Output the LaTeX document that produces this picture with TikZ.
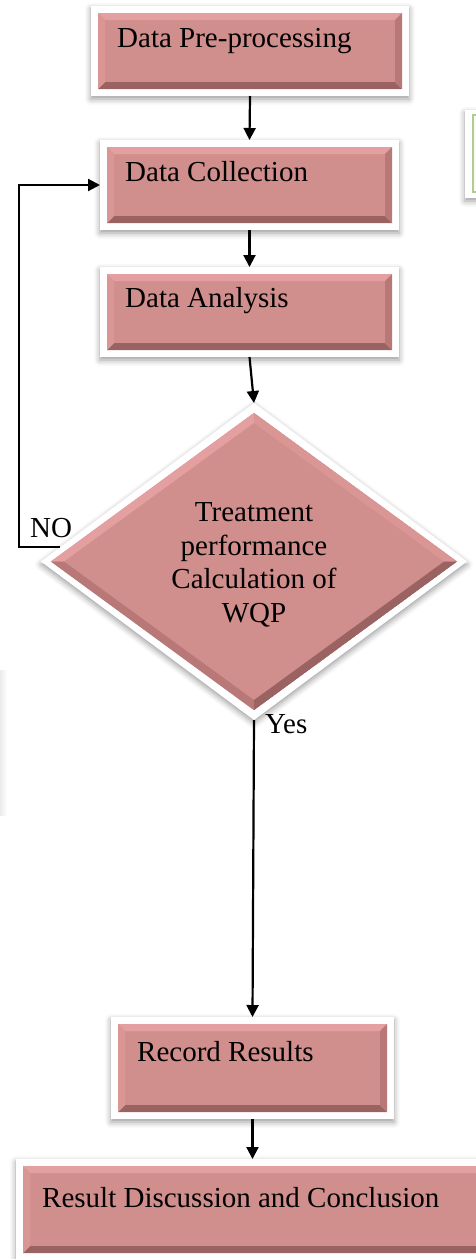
\documentclass[tikz,border=0pt]{standalone}
\usepackage{fontspec}
\setmainfont{Liberation Serif}
\usetikzlibrary{arrows.meta,shapes.geometric,shadows.blur,backgrounds,calc}
\definecolor{pinkmain}{RGB}{208,142,140}
\definecolor{pinktop}{RGB}{228,160,160}
\definecolor{pinkleft}{RGB}{218,150,148}
\definecolor{pinkbot}{RGB}{155,98,98}
\definecolor{pinkright}{RGB}{185,120,120}
\definecolor{greenedge}{RGB}{176,204,146}
\definecolor{greenfill}{RGB}{250,252,244}
\tikzset{
  bevelrect/.style={path picture={
    \fill[pinktop] (path picture bounding box.north west) -- (path picture bounding box.north east) -- ([shift={(-7,7)}]path picture bounding box.north east) -- ([shift={(7,7)}]path picture bounding box.north west) -- cycle;
    \fill[pinkbot] (path picture bounding box.south west) -- (path picture bounding box.south east) -- ([shift={(-7,-7)}]path picture bounding box.south east) -- ([shift={(7,-7)}]path picture bounding box.south west) -- cycle;
    \fill[pinkleft] (path picture bounding box.north west) -- (path picture bounding box.south west) -- ([shift={(7,-7)}]path picture bounding box.south west) -- ([shift={(7,7)}]path picture bounding box.north west) -- cycle;
    \fill[pinkright] (path picture bounding box.north east) -- (path picture bounding box.south east) -- ([shift={(-7,-7)}]path picture bounding box.south east) -- ([shift={(-7,7)}]path picture bounding box.north east) -- cycle;
  }},
  bevelkite/.style={path picture={
    \fill[pinktop] (path picture bounding box.north) -- (path picture bounding box.west) -- ([shift={(13,0)}]path picture bounding box.west) -- ([shift={(0,10)}]path picture bounding box.north) -- cycle;
    \fill[pinkleft] (path picture bounding box.north) -- (path picture bounding box.east) -- ([shift={(-13,0)}]path picture bounding box.east) -- ([shift={(0,10)}]path picture bounding box.north) -- cycle;
    \fill[pinkright] (path picture bounding box.south) -- (path picture bounding box.west) -- ([shift={(13,0)}]path picture bounding box.west) -- ([shift={(0,-10)}]path picture bounding box.south) -- cycle;
    \fill[pinkbot] (path picture bounding box.south) -- (path picture bounding box.east) -- ([shift={(-13,0)}]path picture bounding box.east) -- ([shift={(0,-10)}]path picture bounding box.south) -- cycle;
  }},
  stepbox/.style={rectangle, fill=pinkmain, inner sep=0pt, outer sep=7pt, bevelrect},
  decide/.style={diamond, fill=pinkmain, inner sep=0pt, outer sep=7pt, bevelkite},
  frame/.style={fill=white, blur shadow={shadow xshift=0pt, shadow yshift=-3pt, shadow blur radius=6pt, shadow opacity=40}},
  lbl/.style={inner sep=0pt, font=\fontsize{29}{33.5}\selectfont},
  arr/.style={line width=2.2pt, -{Triangle[width=12pt,length=12pt]}},
}
\begin{document}
\begin{tikzpicture}[x=1pt,y=-1pt]
\useasboundingbox (0,0) rectangle (476,1259);
% boxes (pink inner areas)
\node[stepbox, minimum width=304, minimum height=76] (b1) at (250,51) {};
\node[stepbox, minimum width=285, minimum height=76] (b2) at (249.5,185) {};
\node[stepbox, minimum width=285, minimum height=76] (b3) at (249.5,312) {};
\node[decide, minimum width=412, minimum height=303] (d) at (254,561.5) {};
\node[stepbox, minimum width=269, minimum height=88] (b4) at (252.5,1068) {};
\node[stepbox, minimum width=467, minimum height=87] (b5) at (256.5,1209.5) {};
\node[draw=greenedge, line width=1.5pt, fill=greenfill, inner sep=0pt, outer sep=0pt, minimum width=40, minimum height=77, anchor=north west] (g) at (473,115) {};
% texts
\node[lbl, anchor=base west] (t1) at (117,47) {Data Pre-processing};
\node[lbl, anchor=base west] (t2) at (125,181) {Data Collection};
\node[lbl, anchor=base west] (t3) at (125,307) {Data Analysis};
\node[lbl, align=center] (t6) at (254,565) {Treatment\\performance\\Calculation of\\WQP};
\node[lbl, anchor=base west] (t4) at (137,1061) {Record Results};
\node[lbl, anchor=base west] (t5) at (42,1207) {Result Discussion and Conclusion};
\node[lbl, anchor=base west] (no) at (30,537) {NO};
\node[lbl, anchor=base west] (yes) at (265,733) {Yes};
% frames and shadows
\begin{scope}[on background layer]
  \fill[frame] (b1.north west) rectangle (b1.south east);
  \fill[frame] (b2.north west) rectangle (b2.south east);
  \fill[frame] (b3.north west) rectangle (b3.south east);
  \fill[frame] (b4.north west) rectangle (b4.south east);
  \fill[frame] (b5.north west) rectangle (b5.south east);
  \fill[frame] (d.north) -- (d.east) -- (d.south) -- (d.west) -- cycle;
  \fill[frame] ([shift={(-8,-5)}]g.north west) rectangle ([shift={(8,6)}]g.south east);
  \shade[left color=black!8, right color=white] (0,670) rectangle (7,815);
\end{scope}
% connectors
\draw[arr] (b1.south) -- (b2.north);
\draw[arr] (b2.south) -- (b3.north);
\draw[arr] (b3.south) -- (d.north);
\draw[arr] (d.south) -- (b4.north);
\draw[arr] (b4.south) -- (b4.south |- b5.north);
\coordinate (s) at ($(d.west)!0.09!(d.north)$);
\coordinate (lx) at (19,0);
\draw[arr] (s) -- (s -| lx) |- (b2.west);
\end{tikzpicture}
\end{document}
